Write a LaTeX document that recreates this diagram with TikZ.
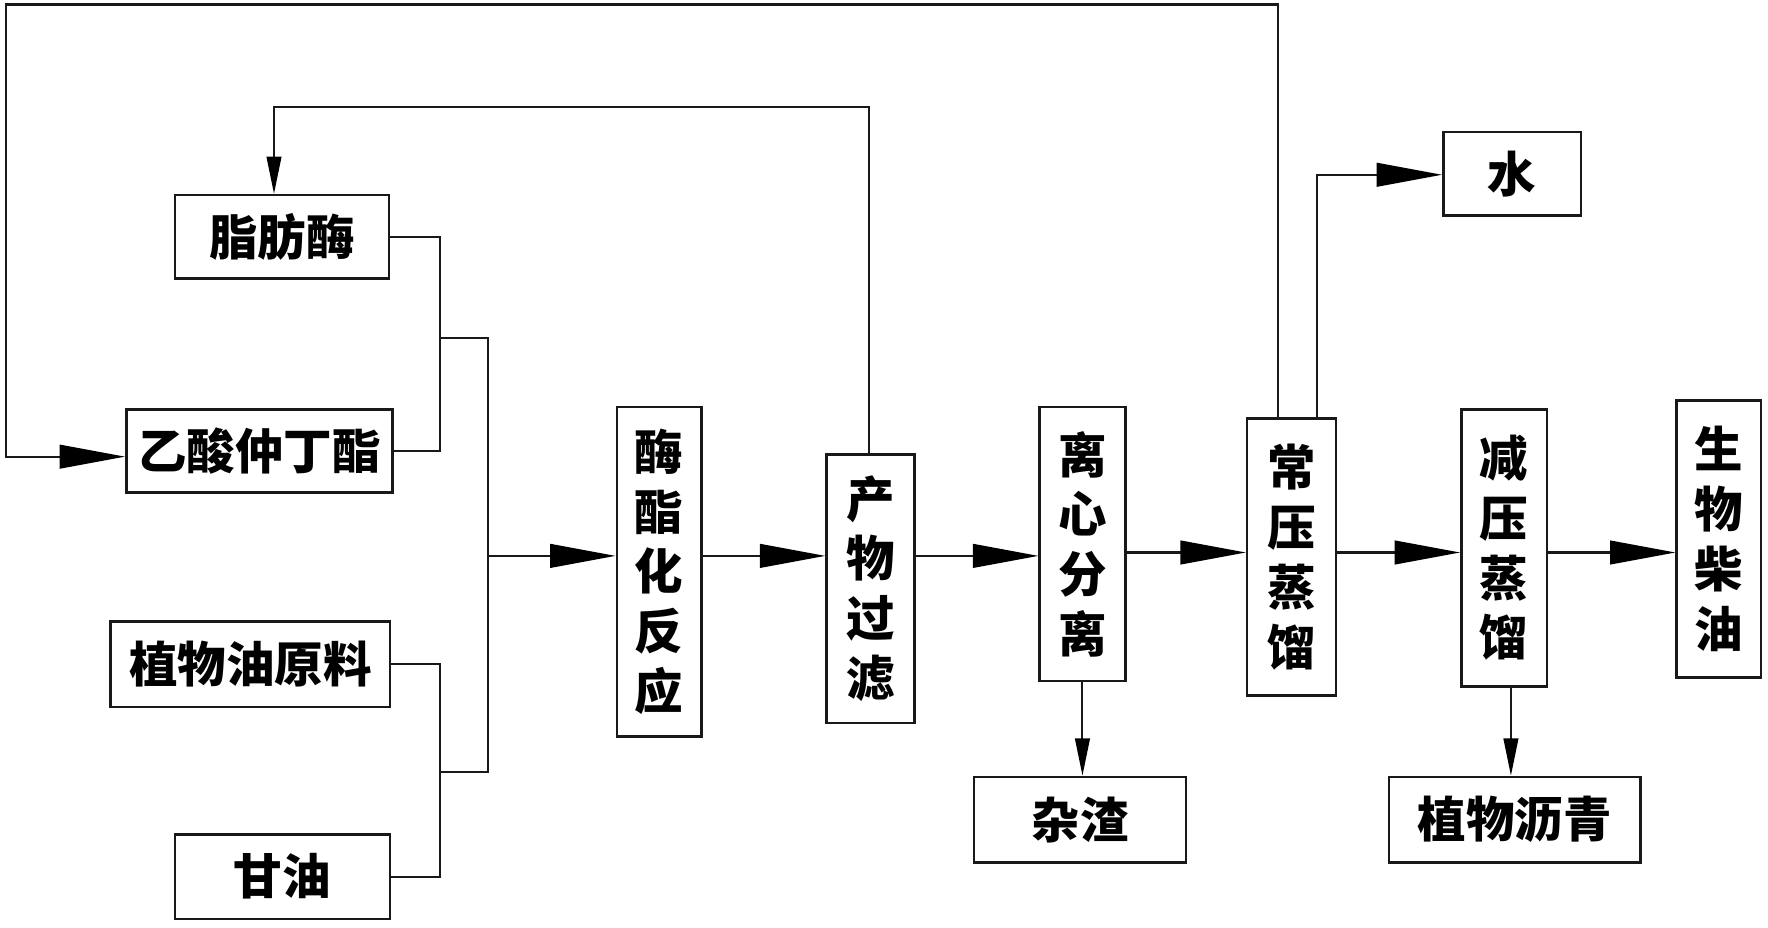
\documentclass[tikz,border=0pt]{standalone}
\usepackage{fontspec}
\newfontfamily\cjk{Noto Sans CJK SC}
\usetikzlibrary{arrows.meta}
\begin{document}
\begin{tikzpicture}[x=0.5pt,y=-0.5pt,
  box/.style={draw=black!90, line width=1.1pt, inner sep=0pt, align=center,
    font=\cjk\bfseries\fontsize{21.5}{26.5}\selectfont},
  conn/.style={draw=black!90, line width=0.9pt},
  arrbig/.style={conn, -{Triangle[length=29pt,width=10.5pt,color=black,fill=black]}},
  arrsmall/.style={conn, -{Triangle[length=16.5pt,width=6.5pt,color=black,fill=black]}}]
\useasboundingbox (0,0) rectangle (1568,823);
% boxes
\node[box, minimum width=95pt, minimum height=37pt] (zfm) at (250,210) {脂肪酶};
\node[box, minimum width=118pt, minimum height=37pt] (yss) at (230,400) {乙酸仲丁酯};
\node[box, minimum width=124pt, minimum height=38pt] (zwy) at (222,589) {植物油原料};
\node[box, minimum width=95.5pt, minimum height=37.5pt] (gy) at (250.5,777.5) {甘油};
\node[box, minimum width=37.5pt, minimum height=146pt] (mzh) at (584.5,507) {酶\\酯\\化\\反\\应};
\node[box, minimum width=39pt, minimum height=119pt] (cwgl) at (772,522) {产\\物\\过\\滤};
\node[box, minimum width=38pt, minimum height=121.5pt] (lxfl) at (960,482.5) {离\\心\\分\\离};
\node[box, minimum width=39.5pt, minimum height=123pt] (cyzl) at (1145.5,494) {常\\压\\蒸\\馏};
\node[box, minimum width=38pt, minimum height=123pt] (jyzl) at (1334,486) {减\\压\\蒸\\馏};
\node[box, minimum width=37.5pt, minimum height=123pt] (swcy) at (1524.5,478) {生\\物\\柴\\油};
\node[box, minimum width=61pt, minimum height=37pt] (shui) at (1341,154) {水};
\node[box, minimum width=94pt, minimum height=38pt] (zz) at (958,727) {杂渣};
\node[box, minimum width=111.5pt, minimum height=38pt] (zwlq) at (1343.5,727) {植物沥青};
% helper coordinates
\coordinate (c1) at (1133,4);
\coordinate (c2) at (5,4);
\coordinate (c3) at (5,405);
\coordinate (c4) at (771,95);
\coordinate (c5) at (243,95);
\coordinate (c6) at (1168,155);
\coordinate (j1) at (390,300);
\coordinate (j2) at (433,300);
\coordinate (j3) at (390,685);
\coordinate (j4) at (433,685);
\coordinate (j5) at (433,493);
\coordinate (j6) at (0,490);
\coordinate (c7) at (1340,0);
% connectors
\draw[arrbig] (cyzl.north -| c1) -- (c1) -- (c2) -- (c3) -- (yss.west |- c3);
\draw[arrsmall] (cwgl.north -| c4) -- (c4) -- (c5) -- (zfm.north -| c5);
\draw[conn] (zfm.east) -| (j1);
\draw[conn] (yss.east) -| (j1);
\draw[conn] (zwy.east) -| (j3);
\draw[conn] (gy.east) -| (j3);
\draw[conn] (j1) -- (j2) -- (j4) -- (j3);
\draw[arrbig] (j5) -- (mzh.west |- j5);
\draw[arrbig] (mzh.east |- j5) -- (cwgl.west |- j5);
\draw[arrbig] (cwgl.east |- j5) -- (lxfl.west |- j5);
\draw[arrbig] (lxfl.east |- j6) -- (cyzl.west |- j6);
\draw[arrbig] (cyzl.east |- j6) -- (jyzl.west |- j6);
\draw[arrbig] (jyzl.east |- j6) -- (swcy.west |- j6);
\draw[arrbig] (cyzl.north -| c6) -- (c6) -- (shui.west |- c6);
\draw[arrsmall] (lxfl.south) -- (lxfl.south |- zz.north);
\draw[arrsmall] (jyzl.south -| c7) -- (zwlq.north -| c7);
\end{tikzpicture}
\end{document}
